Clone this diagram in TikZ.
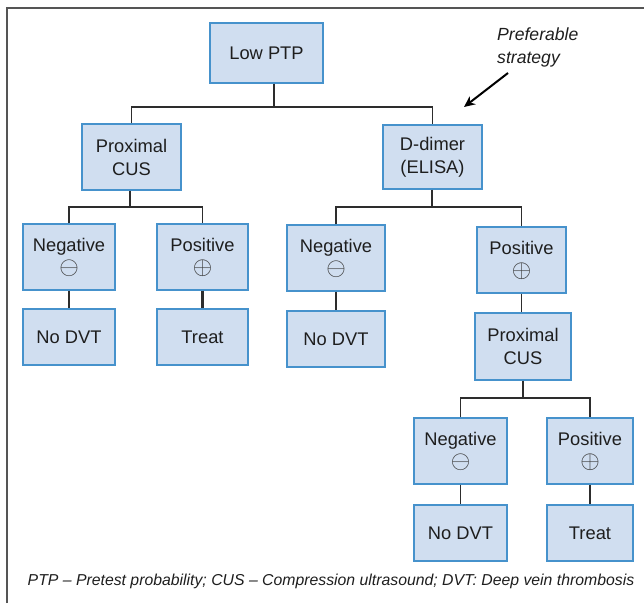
\documentclass[tikz,border=0pt]{standalone}
\usepackage{fontspec}
\setmainfont{Liberation Sans}
\usetikzlibrary{arrows.meta,calc}
\definecolor{boxfill}{RGB}{208,222,240}
\definecolor{boxline}{RGB}{70,146,204}
\definecolor{conn}{RGB}{45,45,45}
\definecolor{txt}{RGB}{30,30,30}
\definecolor{symc}{RGB}{60,60,60}
\definecolor{frame}{RGB}{85,85,85}
\tikzset{
  box/.style={draw=boxline, fill=boxfill, line width=1.4pt, inner sep=0pt,
    align=center, text=txt, font=\fontsize{18.3}{23}\selectfont},
  conline/.style={draw=conn, line width=1.2pt},
  thickline/.style={draw=conn, line width=2.2pt},
}
\newcommand{\negsym}{{\color{symc}\scalebox{1.45}{$\ominus$}}}
\newcommand{\possym}{{\color{symc}\scalebox{1.45}{$\oplus$}}}
\begin{document}
\begin{tikzpicture}[x=1pt,y=-1pt]
\useasboundingbox (0,0) rectangle (644,603);
\draw[frame, line width=1.6pt] (7,603) -- (7,8) -- (644,8);

\node[box, minimum width=113pt, minimum height=60pt] (lowptp) at (266.5,53) {Low PTP};
\node[box, minimum width=99pt, minimum height=66pt] (pcus1) at (131.5,157) {Proximal\\CUS};
\node[box, minimum width=99pt, minimum height=64pt] (ddimer) at (432.5,157) {D-dimer\\(ELISA)};
\node[box, minimum width=92pt, minimum height=66pt] (neg1) at (69,257) {Negative\\\negsym};
\node[box, minimum width=91pt, minimum height=66pt] (pos1) at (202.5,257) {Positive\\\possym};
\node[box, minimum width=92pt, minimum height=56pt] (nodvt1) at (69,337) {No DVT};
\node[box, minimum width=91pt, minimum height=56pt] (treat1) at (202.5,337) {Treat};
\node[box, minimum width=98pt, minimum height=66pt] (neg2) at (336,258) {Negative\\\negsym};
\node[box, minimum width=98pt, minimum height=56pt] (nodvt2) at (336,339) {No DVT};
\node[box, minimum width=89pt, minimum height=66pt] (pos2) at (521.5,260) {Positive\\\possym};
\node[box, minimum width=96pt, minimum height=67pt] (pcus2) at (523,346.5) {Proximal\\CUS};
\node[box, minimum width=93pt, minimum height=66pt] (neg3) at (460.5,451) {Negative\\\negsym};
\node[box, minimum width=86pt, minimum height=66pt] (pos3) at (590,451) {Positive\\\possym};
\node[box, minimum width=93pt, minimum height=56pt] (nodvt3) at (460.5,533) {No DVT};
\node[box, minimum width=86pt, minimum height=56pt] (treat3) at (590,533) {Treat};

\coordinate (j1) at (274,107);
\coordinate (j2) at (130,207);
\coordinate (j3) at (432,207);
\coordinate (j4) at (523,398);

\draw[conline] (j1 |- lowptp.south) -- (j1);
\draw[conline] (pcus1.north) |- (j1) -| (ddimer.north);
\draw[conline] (j2 |- pcus1.south) -- (j2);
\draw[conline] (neg1.north) |- (j2) -| (pos1.north);
\draw[conline] (j3 |- ddimer.south) -- (j3);
\draw[conline] (neg2.north) |- (j3) -| (pos2.north);
\draw[conline] (pos2.south) -- (pos2.south |- pcus2.north);
\draw[conline] (j4 |- pcus2.south) -- (j4);
\draw[conline] (neg3.north) |- (j4) -| (pos3.north);
\draw[conline] (neg1.south) -- (nodvt1.north);
\draw[thickline] (pos1.south) -- (treat1.north);
\draw[conline] (neg2.south) -- (nodvt2.north);
\draw[conline] (neg3.south) -- (nodvt3.north);
\draw[thickline] (pos3.south) -- (treat3.north);

\node[anchor=west, align=left, text=txt, inner sep=0pt,
  font=\fontsize{17.6}{23}\selectfont\itshape] (pref) at (497,47) {Preferable\\strategy};
\coordinate (arrtip) at (464,107);
\draw[draw=black, line width=2pt, -{Stealth[length=11pt,width=10pt]}] (508,73) -- (arrtip);

\node[text=txt, inner sep=0pt, font=\fontsize{15.8}{18}\selectfont\itshape] (foot) at (331,581)
  {PTP -- Pretest probability; CUS -- Compression ultrasound; DVT: Deep vein thrombosis};
\end{tikzpicture}
\end{document}
